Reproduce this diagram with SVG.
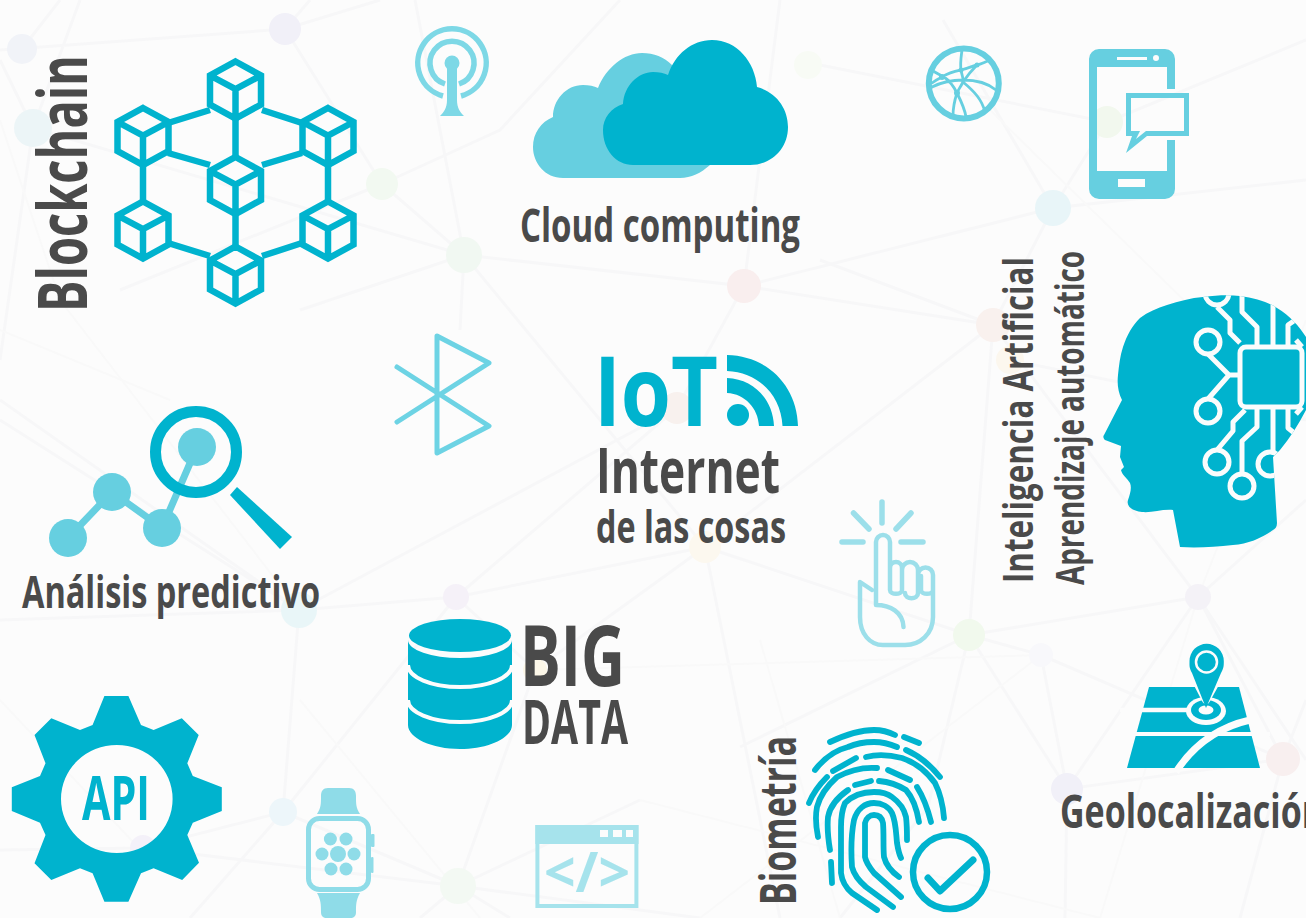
<svg xmlns="http://www.w3.org/2000/svg" width="1306" height="918" viewBox="0 0 1306 918">
<style>
text{font-family:"Open Sans","Noto Sans","Liberation Sans",sans-serif;font-weight:700;fill:#4a4a4a}
.t{fill:#00b3ce}.m{fill:#66cfe0}
.edge{stroke:#f7f7f8;stroke-width:3;fill:none}
.thin{stroke:#f9f9f9;stroke-width:2;fill:none}
.ln{fill:none;stroke-linecap:round;stroke-linejoin:round}
.fp{fill:none;stroke:#00b3ce;stroke-width:5.800;stroke-linecap:round;stroke-linejoin:round}
.cb{fill:none;stroke:#00b3ce;stroke-width:6.500;stroke-linejoin:miter}
.cir{fill:none;stroke:#fafcfc;stroke-width:5;stroke-linejoin:round}
</style>
<defs>
<g id="cube"><path class="cb" d="M0-28.5 25.5-14.500V14.500L0 28.500-25.500 14.500V-14.500ZM-25.500-14.500 0-1 25.500-14.500M0-1V28.500"/></g>
<clipPath id="headclip"><path d="M1203 297C1218 295 1230 295 1240 296C1255 298 1268 302 1277 308C1290 316 1299 326 1306 337V410C1298 425 1290 438 1280 450L1273 457L1277 523C1277 527 1275 529 1273 530C1262 538 1248 544 1233 545C1215 547 1197 548 1180 547L1173 510C1162 509 1152 513 1142 512C1132 511 1126 506 1128 500C1130 494 1132 488 1130 483C1127 478 1122 475 1121 470L1124 467L1120 457L1121 446L1105 440C1103 438 1103 436 1104 435L1122 400C1118 392 1117 384 1118 375C1119 365 1120 356 1123 347C1127 335 1132 326 1140 318C1148 312 1157 308 1167 305C1179 301 1191 298 1203 297Z"/></clipPath>
</defs>
<rect width="1306" height="918" fill="#fcfcfc"/>
<g id="background-net">
<path class="edge" d="M0 50 285 29 382 184 464 255M285 29 310 0M285 29 380 0M33 128 464 255M464 255 744 286 677 408 456 597M464 255 300 310M415 0 464 255M382 184 500 130 620 0M382 184 120 290M464 255 705 547M299 610 677 408M744 286 1053 208 1306 180M943 20 1053 208M1053 208 1107 122 1306 40M820 65 1107 122M464 255 460 330M0 360 33 128M33 128 80 0M33 128 0 60M22 49 60 0"/>
<path class="edge" d="M744 286 780 0M744 286 993 325 1198 597 1306 760M993 325 1053 208M993 325 820 260M1010 360 1306 420M993 325 969 635M993 325 705 547M705 547 969 635 1198 597M705 547 456 597 299 610 0 620M299 610 283 812M299 610 0 420M0 400 299 610M456 597 283 812M456 597 535 670 458 886M705 547 535 670M705 547 780 918M969 635 1067 789 1283 759 1306 700M969 635 1041 655 1283 759M969 635 928 807 840 918M740 747 969 635M1041 655 1067 789 1065 918M1198 597 1067 789M1198 597 1283 759M1198 597 1306 500M1283 759 1240 918M283 812 143 848 0 850M143 848 458 886 700 918M458 886 640 800M283 812 458 886M283 812 190 918M458 886 420 918M458 886 510 918"/>
<path class="thin" d="M0 120 60 300 299 610M170 400 0 330M990 110 1306 420M1198 597 1306 320M640 800 1100 918M700 918 1041 655M535 670 1041 655M300 700 480 918M0 700 150 860M840 918 760 640M1100 918 1198 597"/>
<circle cx="22" cy="49" r="15" fill="#f1f3f8"/>
<circle cx="33" cy="128" r="19" fill="#ecf5f7"/><circle cx="285" cy="29" r="16" fill="#f1f0f8"/><circle cx="382" cy="184" r="16" fill="#f2f9f1"/><circle cx="464" cy="255" r="18" fill="#f1f8f2"/><circle cx="744" cy="286" r="17" fill="#f9eeee"/><circle cx="808" cy="65" r="14" fill="#f8fbf5"/><circle cx="1107" cy="122" r="16" fill="#f2f8ee"/><circle cx="1053" cy="208" r="18" fill="#e8f5f8"/><circle cx="993" cy="325" r="17" fill="#f9f1ee"/><circle cx="1010" cy="360" r="14" fill="#fcf7ee"/><circle cx="677" cy="408" r="16" fill="#f8f1ee"/><circle cx="705" cy="547" r="16" fill="#fcf8ef"/><circle cx="456" cy="597" r="13" fill="#f5f1f8"/><circle cx="299" cy="610" r="18" fill="#e9f6f8"/><circle cx="969" cy="635" r="16" fill="#f1f9ed"/><circle cx="1198" cy="597" r="13" fill="#f4f2f7"/><circle cx="1067" cy="789" r="16" fill="#f1f0f8"/><circle cx="1283" cy="759" r="17" fill="#f8efef"/><circle cx="283" cy="812" r="14" fill="#edf6fa"/><circle cx="458" cy="886" r="18" fill="#f3f9f3"/><circle cx="535" cy="670" r="12" fill="#fcf7e8"/><circle cx="143" cy="848" r="13" fill="#f4f1f9"/><circle cx="1041" cy="655" r="12" fill="#f8f8fb"/>
</g>
<g id="blockchain">
<path fill="none" stroke="#00b3ce" stroke-width="6.500" d="M168 123 210 110M262 110 302 123M168 153 210 165M302 153 262 165M235.500 118V157M143 165V202M328 165V202M235.500 214V247M168 243 210 256M302 243 262 256"/>
<use href="#cube" x="235.500" y="90"/><use href="#cube" x="143" y="136.500"/><use href="#cube" x="328" y="136.500"/><use href="#cube" x="235.500" y="185.500"/><use href="#cube" x="143" y="230"/><use href="#cube" x="328" y="230"/><use href="#cube" x="235.500" y="275"/>
<text transform="translate(87 312) rotate(-90)" font-size="68" textLength="257" lengthAdjust="spacingAndGlyphs">Blockchain</text>
</g>
<g id="antenna">
<g class="ln" stroke="#7dd8e6" stroke-width="5.500"><path stroke-linecap="butt" d="M443 96A34.200 34.200 0 1 1 461 96M445 84A22 22 0 1 1 459 84"/></g>
<circle cx="452" cy="63" r="7.500" fill="#7dd8e6"/><path fill="#7dd8e6" d="M447 64H457V100C457 108 460 112 464 116H440C444 112 447 108 447 100Z"/>
</g>
<g id="cloud">
<path class="m" d="M563 178C545 178 533 163 533 147C533 133 541 122 553 117C553 100 566 85 583 85C589 85 594 86 598 88C606 68 624 53 642 53C654 53 664 57 672 65L710 165C701 173 691 178 680 178Z"/>
<path class="t" d="M633 165C616 165 603 150 603 130C603 118 611 108 623 104C624 86 638 72 653 72C659 72 664 73 668 75C675 54 692 40 712 40C737 40 755 62 757 87C776 92 788 108 788 127C788 149 771 165 750 165Z"/>
<text x="520" y="242" font-size="47" textLength="280" lengthAdjust="spacingAndGlyphs">Cloud computing</text>
</g>
<g id="globe">
<circle cx="963.800" cy="83.400" r="35" fill="none" stroke="#66cfe0" stroke-width="6"/>
<path class="ln" stroke="#66cfe0" stroke-width="2.800" d="M962 50C961 58 960 63 961 70C962 76 964 80 963 82C960 88 958 90 957 93C954 102 953 110 953 116M933 71C938 74 942 76 944 77C950 81 954 87 957 93C962 103 965 110 966 117M932 83C936 80 940 78 942 77C950 72 956 71 961 70C969 68 975 65 977 65C981 64 985 62 988 61M932 87C942 82 952 80 963 80C979 80 990 85 996 90M963 82C967 76 972 70 977 65M963 82C975 92 982 100 985 112"/>
<g class="m"><circle cx="942" cy="77" r="3"/><circle cx="961" cy="70" r="2.500"/><circle cx="977" cy="65" r="2.500"/><circle cx="957" cy="93" r="3"/></g>
</g>
<g id="phone">
<path class="m" fill-rule="evenodd" d="M1099 49H1165A10 10 0 0 1 1175 59V189A10 10 0 0 1 1165 199H1099A10 10 0 0 1 1089 189V59A10 10 0 0 1 1099 49ZM1097 67V171H1167V140H1175V89H1167V67ZM1117 57V60H1147V57ZM1118 179V187H1145V179ZM1159 58A3 3 0 1 0 1153 58A3 3 0 1 0 1159 58Z"/>
<path class="m" fill-rule="evenodd" d="M1126 93H1189V136H1147L1126 153L1132 136H1126ZM1131 98V131H1140L1136 139L1146 131H1184V98Z"/>
</g>
<g id="bluetooth"><path class="ln" stroke="#6dd3e4" stroke-width="5" d="M397 367 489 426 437 453V336L489 363 397 422"/></g>
<g id="iot">
<text x="594" y="426" font-size="97" style="fill:#00b3ce" textLength="124" lengthAdjust="spacingAndGlyphs">IoT</text>
<path class="t" d="M727 355C768 356 797 386 798 426H782.500C781 395 758 372 727 371Z"/>
<path class="t" d="M727 378C754 379 773 400 774 426H759C758 408 745 394 727 393Z"/>
<circle class="t" cx="738" cy="415" r="11"/>
<text x="596" y="493" font-size="63" textLength="184" lengthAdjust="spacingAndGlyphs">Internet</text>
<text x="596" y="543" font-size="44" textLength="190" lengthAdjust="spacingAndGlyphs">de las cosas</text>
</g>
<g id="touch">
<path class="ln" stroke="#9cdfea" stroke-width="5.500" d="M882 502V523M853.500 513 869 529M911 513 896 529M842 542H863M901 542H923"/>
<path class="ln" stroke="#9cdfea" stroke-width="4.500" d="M876 605V542A6.800 6.800 0 0 1 890 542V590C890 595 902 595 902 590V568A6 6 0 0 0 890 568M902 570A6.500 6.500 0 0 1 918 570V593C918 600 905 600 905 593M918 575A6 6 0 0 1 933 575V617C933 634 920 645 905 645H883C870 645 860 634 860 617V582L872 590M921 576V590C921 595 933 595 933 590M876 605C890 605 903 612 903.500 627"/>
</g>
<g id="analytics">
<path class="ln" stroke="#66cfe0" stroke-width="7" d="M68 538 112 492 162 528 197 447"/>
<circle class="m" cx="68" cy="538" r="19"/><circle class="m" cx="112" cy="492" r="19"/><circle class="m" cx="162" cy="528" r="19"/><circle class="m" cx="197" cy="447" r="19"/>
<circle cx="196" cy="452" r="40.500" fill="none" stroke="#00b3ce" stroke-width="11"/>
<path class="t" d="M237 487 292 537 280 549 230 495Z"/>
<text x="22" y="608" font-size="44" textLength="298" lengthAdjust="spacingAndGlyphs">Análisis predictivo</text>
</g>
<g id="bigdata">
<path class="t" d="M408 640A52 18 0 0 0 512 640V725C512 738 488 749 460 749S408 738 408 725Z"/>
<path fill="none" stroke="#fcfcfc" stroke-width="4" d="M408 665A52 22 0 0 0 512 665M408 700A52 22 0 0 0 512 700"/>
<ellipse class="t" cx="460" cy="635.500" rx="51" ry="16.500"/>
<text x="520" y="686" font-size="84" textLength="105" lengthAdjust="spacingAndGlyphs">BIG</text>
<text x="522" y="744" font-size="60" textLength="106" lengthAdjust="spacingAndGlyphs">DATA</text>
</g>
<g id="api">
<path class="t" fill-rule="evenodd" d="M104.400 696H128.400L141 725 153.600 730 181.800 718.300 198.700 735 187.300 763.300 192.800 776 221.800 787.300V811L192.800 822.700 187.300 835 199 862.700 182.200 880 153.600 868.300 141 873.300 128.400 901.700H104.400L92.600 873.300 80 868.300 51.300 880 34.500 863.300 45.500 835 40 822.700 11.800 811V787.300L40 776 45.500 763.300 34.500 735 51.300 718.300 80 730 92.600 725ZM116.800 745A55.800 54 0 0 0 116.800 853A55.800 54 0 0 0 116.800 745Z"/>
<text x="82" y="820" font-size="60" textLength="68" lengthAdjust="spacingAndGlyphs" style="fill:#00b3ce">API</text>
</g>
<g id="watch">
<g fill="#8fdce8">
<path d="M328 788H349C354 788 356 791 356 796C356 804 356 808 360 814H317C321 808 321 804 321 796C321 791 323 788 328 788Z"/>
<path d="M317 893H360C356 900 356 905 356 912C356 916 354 918 350 918H327C323 918 321 916 321 912C321 905 321 900 317 893Z"/>
<rect x="371" y="834" width="3.500" height="13" rx="1"/><rect x="371" y="857" width="2.500" height="16" rx="1"/>
<circle cx="338" cy="854" r="8"/><circle cx="330.400" cy="839" r="6.500"/><circle cx="346" cy="839" r="6.500"/><circle cx="322" cy="854" r="6.500"/><circle cx="354" cy="854" r="6.500"/><circle cx="331" cy="869" r="6.500"/><circle cx="346" cy="869" r="6.500"/>
</g>
<rect x="308.500" y="818.500" width="60" height="71" rx="11" fill="none" stroke="#8fdce8" stroke-width="5"/>
</g>
<g id="code">
<rect x="537.400" y="827" width="99" height="79" fill="none" stroke="#a6e3ec" stroke-width="4"/>
<path fill="#a6e3ec" d="M535.400 825H638.500V844H535.400Z"/>
<path fill="#fcfcfc" d="M600 830H608V837H600ZM613 830H622V837H613ZM626 830H633V837H626Z"/>
<text x="544" y="892" font-size="56" textLength="86" lengthAdjust="spacingAndGlyphs" style="fill:#a6e3ec;font-weight:700">&lt;/&gt;</text>
</g>
<g id="head">
<path class="t" d="M1203 297C1218 295 1230 295 1240 296C1255 298 1268 302 1277 308C1290 316 1299 326 1306 337V410C1298 425 1290 438 1280 450L1273 457L1277 523C1277 527 1275 529 1273 530C1262 538 1248 544 1233 545C1215 547 1197 548 1180 547L1173 510C1162 509 1152 513 1142 512C1132 511 1126 506 1128 500C1130 494 1132 488 1130 483C1127 478 1122 475 1121 470L1124 467L1120 457L1121 446L1105 440C1103 438 1103 436 1104 435L1122 400C1118 392 1117 384 1118 375C1119 365 1120 356 1123 347C1127 335 1132 326 1140 318C1148 312 1157 308 1167 305C1179 301 1191 298 1203 297Z"/>
<g clip-path="url(#headclip)" class="cir">
<rect x="1240" y="347" width="62" height="60" rx="6"/>
<circle cx="1208" cy="342" r="12"/><circle cx="1208" cy="411" r="12"/><circle cx="1217" cy="462" r="12"/><circle cx="1242" cy="486" r="12"/><circle cx="1270" cy="464" r="12"/><circle cx="1217" cy="293" r="12"/>
<path d="M1208 354 1229 375H1240M1208 399 1229 375M1217 450 1233 431V422L1245 410M1242 474V441L1257 427V408M1273 408V452M1288 408V428L1298 436M1257 346V327L1242 312V292M1240 343 1230 333V320L1217 307M1273 346V300M1288 346V325L1298 318M1302 347 1296 340M1302 407 1296 414"/>
</g>
<text transform="translate(1033 583) rotate(-90)" font-size="42" textLength="326" lengthAdjust="spacingAndGlyphs">Inteligencia Artificial</text>
<text transform="translate(1084 585) rotate(-90)" font-size="39" textLength="334" lengthAdjust="spacingAndGlyphs">Aprendizaje automático</text>
</g>
<g id="biometria">
<path class="fp" d="M830 742C845 735 860 730 874 730C882 730 889 732 895 735M904 737 919 743M815 770C825 757 836 750 848 747C857 743 866 742 874 742C882 742 890 744 897 747M906 750C920 756 931 766 940 777M833 771 856 758M866 757C878 754 890 755 902 758C917 763 927 772 935 783C941 795 943 806 944 818M809 803C813 793 819 785 827 777M818 837C816 827 815 817 817 807C820 795 828 785 837 777C850 770 864 767 877 768M888 770 910 780M917 787C924 798 928 810 931 822M855 785 871 781M830 850C828 838 827 828 828 817C830 806 838 797 848 790M879 781C890 782 898 785 906 790C914 799 917 810 919 822M907 840C907 832 907 825 906 817C904 808 899 802 892 797C887 793 880 792 874 792C862 792 852 796 845 803C842 810 841 818 841 827V873C842 881 846 888 852 893L877 910M893 907 866 887C859 881 854 875 852 867C851 852 851 835 854 820C857 809 865 803 874 803C882 803 889 807 892 813C896 822 896 833 897 843C898 849 899 854 901 858M901 897 874 873C870 868 866 863 865 857V823C866 818 870 815 874 815C879 815 882 818 883 823C884 835 883 846 884 857C886 865 892 872 899 877M831 862 832 883"/>
<circle cx="950" cy="872" r="37" fill="none" stroke="#00b3ce" stroke-width="6.500"/>
<path class="fp" style="stroke-width:7" d="M928 878 940 891 973 860"/>
<text transform="translate(796 905) rotate(-90)" font-size="50" textLength="169" lengthAdjust="spacingAndGlyphs">Biometría</text>
</g>
<g id="geo">
<path class="t" d="M1149 687H1239L1260 768H1127Z"/>
<path fill="none" stroke="#fcfcfc" stroke-width="4" d="M1118 734H1270"/>
<path fill="none" stroke="#fcfcfc" stroke-width="4.500" d="M1120 710H1190"/>
<path fill="none" stroke="#fcfcfc" stroke-width="7" d="M1176 772C1192 747 1215 728 1250 720"/>
<ellipse cx="1206" cy="711" rx="20" ry="14" fill="#fcfcfc"/>
<ellipse class="t" cx="1206" cy="710" rx="15" ry="10"/>
<ellipse cx="1206" cy="710" rx="7.500" ry="4.500" fill="#fcfcfc"/>
<path fill="#fcfcfc" stroke="#fcfcfc" stroke-width="8" stroke-linejoin="round" d="M1206 700L1192 673V660H1221V673Z"/>
<path class="t" d="M1206 708L1192 673C1189 668 1189.500 665 1189.500 661A17 17 0 0 1 1223.800 661C1223.800 665 1224 668 1221 673Z"/>
<path fill="none" stroke="#fcfcfc" stroke-width="2.500" d="M1196 662A10.500 10.500 0 1 0 1217 662A10.500 10.500 0 1 0 1196 662Z"/>
<text x="1060" y="828" font-size="46" textLength="264" lengthAdjust="spacingAndGlyphs">Geolocalización</text>
</g>
</svg>
